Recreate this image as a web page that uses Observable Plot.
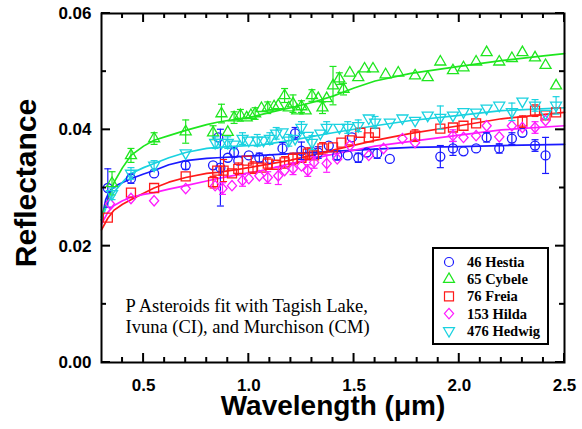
<!DOCTYPE html>
<html><head><meta charset="utf-8">
<script src="https://cdn.jsdelivr.net/npm/d3@7"></script>
<script src="https://cdn.jsdelivr.net/npm/@observablehq/plot@0.6"></script>
<style>
body{margin:0;background:#fff}
#wrap{position:relative;width:582px;height:429px;background:#fff}
#wrap svg.overlay{position:absolute;left:0;top:0;pointer-events:none}
</style></head><body><div id="wrap"></div>
<script>
// ---- data: [wavelength µm, reflectance, error] ----
const hestia = [[0.33,0.0300,0.0033],[0.44,0.0316,0.0008],[0.55,0.0325,0],[0.70,0.0339,0.0007],[0.83,0.0339,0],[0.855,0.0387,0],[0.865,0.0335,0.0066],[0.90,0.0352,0],[0.93,0.0361,0.0008],[0.95,0.0347,0],[1.00,0.0356,0],[1.05,0.0352,0.0008],[1.10,0.0350,0],[1.16,0.0368,0.0010],[1.22,0.0394,0.0010],[1.25,0.0364,0.0015],[1.30,0.0362,0],[1.33,0.0361,0.0010],[1.38,0.0373,0],[1.42,0.0356,0.0008],[1.47,0.0356,0],[1.49,0.0387,0],[1.52,0.0352,0.0008],[1.56,0.0361,0],[1.61,0.0359,0.0008],[1.67,0.0350,0],[1.91,0.0354,0.0019],[1.97,0.0368,0.0012],[2.02,0.0363,0],[2.08,0.0368,0],[2.13,0.0387,0.0008],[2.19,0.0368,0.0008],[2.25,0.0385,0.0010],[2.30,0.0395,0],[2.36,0.0373,0.0010],[2.41,0.0356,0.0031]];
const cybele = [[0.35,0.0308,0.0020],[0.44,0.0356,0.0012],[0.55,0.0385,0.0010],[0.70,0.0397,0.0020],[0.83,0.0395,0.0012],[0.87,0.0428,0.0016],[0.90,0.0396,0],[0.93,0.0421,0.0010],[0.96,0.0425,0.0010],[0.99,0.0421,0],[1.01,0.0425,0],[1.03,0.0428,0.0010],[1.06,0.0437,0],[1.09,0.0438,0.0010],[1.12,0.0440,0],[1.14,0.0442,0],[1.17,0.0459,0.0012],[1.19,0.0438,0],[1.21,0.0445,0.0015],[1.23,0.0433,0],[1.25,0.0440,0.0010],[1.27,0.0433,0],[1.30,0.0459,0.0010],[1.33,0.0454,0],[1.35,0.0438,0.0010],[1.37,0.0454,0],[1.40,0.0476,0.0033],[1.43,0.0488,0.0010],[1.45,0.0470,0.0010],[1.48,0.0498,0],[1.52,0.0490,0],[1.55,0.0505,0],[1.59,0.0505,0],[1.65,0.0495,0],[1.71,0.0498,0],[1.79,0.0493,0],[1.85,0.0490,0],[1.91,0.0517,0],[1.97,0.0502,0],[2.02,0.0507,0],[2.08,0.0517,0],[2.13,0.0533,0],[2.19,0.0517,0],[2.25,0.0523,0],[2.30,0.0533,0],[2.36,0.0524,0],[2.41,0.0511,0],[2.46,0.0476,0]];
const freia = [[0.33,0.0249,0],[0.44,0.0292,0],[0.55,0.0300,0],[0.70,0.0320,0],[0.83,0.0310,0.0010],[0.85,0.0330,0],[0.88,0.0330,0.0019],[0.92,0.0325,0],[0.95,0.0333,0.0010],[0.99,0.0347,0],[1.02,0.0335,0.0010],[1.06,0.0335,0],[1.09,0.0342,0.0010],[1.13,0.0340,0],[1.17,0.0344,0.0010],[1.21,0.0350,0.0010],[1.25,0.0352,0],[1.28,0.0359,0.0010],[1.31,0.0356,0],[1.35,0.0368,0.0010],[1.40,0.0370,0],[1.44,0.0378,0],[1.48,0.0382,0],[1.53,0.0395,0],[1.57,0.0387,0],[1.60,0.0395,0],[1.79,0.0390,0.0010],[1.91,0.0402,0],[1.97,0.0404,0],[2.02,0.0407,0],[2.08,0.0411,0],[2.30,0.0414,0.0010],[2.36,0.0433,0.0010],[2.41,0.0425,0],[2.46,0.0430,0]];
const hilda = [[0.34,0.0273,0],[0.44,0.0282,0],[0.55,0.0278,0],[0.70,0.0299,0],[0.84,0.0304,0],[0.875,0.0299,0.0010],[0.92,0.0304,0],[0.97,0.0313,0.0010],[1.00,0.0316,0],[1.05,0.0321,0],[1.09,0.0318,0.0010],[1.14,0.0321,0.0015],[1.17,0.0330,0],[1.21,0.0333,0.0010],[1.25,0.0338,0],[1.28,0.0330,0.0010],[1.31,0.0344,0.0010],[1.37,0.0342,0.0015],[1.42,0.0350,0],[1.48,0.0373,0],[1.57,0.0356,0],[1.64,0.0368,0],[1.73,0.0385,0],[1.79,0.0378,0],[1.97,0.0390,0.0010],[2.02,0.0387,0],[2.08,0.0390,0],[2.13,0.0407,0],[2.19,0.0388,0],[2.25,0.0407,0],[2.30,0.0404,0],[2.36,0.0404,0.0010],[2.41,0.0416,0]];
const hedwig = [[0.35,0.0290,0.0010],[0.44,0.0325,0.0010],[0.55,0.0339,0.0008],[0.70,0.0360,0],[0.84,0.0378,0.0010],[0.87,0.0378,0],[0.90,0.0378,0.0010],[0.93,0.0375,0],[0.97,0.0385,0.0010],[1.00,0.0382,0],[1.04,0.0382,0.0010],[1.07,0.0382,0],[1.10,0.0385,0.0010],[1.13,0.0394,0.0010],[1.16,0.0396,0],[1.19,0.0382,0.0010],[1.22,0.0385,0],[1.25,0.0404,0.0010],[1.28,0.0390,0],[1.30,0.0378,0.0012],[1.34,0.0394,0],[1.37,0.0404,0.0010],[1.43,0.0404,0],[1.47,0.0404,0.0010],[1.52,0.0407,0.0010],[1.57,0.0420,0],[1.60,0.0413,0.0010],[1.67,0.0413,0],[1.73,0.0420,0],[1.79,0.0416,0],[1.85,0.0425,0],[1.91,0.0421,0.0020],[1.97,0.0425,0],[2.02,0.0431,0],[2.08,0.0430,0],[2.13,0.0437,0],[2.19,0.0442,0],[2.25,0.0431,0.0015],[2.30,0.0449,0],[2.36,0.0442,0.0010],[2.41,0.0428,0],[2.46,0.0442,0.0015]];

// ---- model fits: [wavelength µm, reflectance] ----
const hestiaFit = [[0.30,0.0245],[0.32,0.0280],[0.34,0.0296],[0.38,0.0306],[0.44,0.0316],[0.50,0.0324],[0.55,0.0330],[0.62,0.0340],[0.70,0.0347],[0.80,0.0351],[0.85,0.0352],[0.95,0.0354],[1.06,0.0356],[1.20,0.0359],[1.40,0.0363],[1.60,0.0367],[1.77,0.0370],[2.00,0.0371],[2.20,0.0373],[2.50,0.0375]];
const cybeleFit = [[0.30,0.0250],[0.33,0.0280],[0.36,0.0310],[0.40,0.0335],[0.44,0.0356],[0.50,0.0372],[0.55,0.0382],[0.62,0.0390],[0.70,0.0399],[0.80,0.0409],[0.85,0.0413],[0.90,0.0416],[1.00,0.0421],[1.10,0.0430],[1.20,0.0438],[1.30,0.0447],[1.40,0.0458],[1.50,0.0472],[1.60,0.0484],[1.77,0.0497],[2.00,0.0509],[2.20,0.0519],[2.40,0.0527],[2.50,0.0531]];
const freiaFit = [[0.30,0.0228],[0.33,0.0248],[0.36,0.0262],[0.40,0.0272],[0.44,0.0280],[0.50,0.0291],[0.55,0.0300],[0.62,0.0310],[0.70,0.0318],[0.80,0.0325],[0.85,0.0327],[0.95,0.0332],[1.06,0.0339],[1.20,0.0348],[1.40,0.0365],[1.60,0.0382],[1.77,0.0394],[2.00,0.0407],[2.20,0.0419],[2.50,0.0430]];
const hildaFit = [[0.30,0.0238],[0.33,0.0258],[0.36,0.0270],[0.40,0.0278],[0.44,0.0284],[0.50,0.0289],[0.55,0.0292],[0.62,0.0298],[0.70,0.0304],[0.80,0.0312],[0.85,0.0316],[0.95,0.0323],[1.06,0.0330],[1.20,0.0342],[1.40,0.0358],[1.60,0.0372],[1.77,0.0380],[2.00,0.0391],[2.20,0.0400],[2.50,0.0407]];
const hedwigFit = [[0.30,0.0245],[0.33,0.0275],[0.36,0.0293],[0.40,0.0310],[0.44,0.0325],[0.50,0.0335],[0.55,0.0342],[0.62,0.0352],[0.70,0.0361],[0.80,0.0368],[0.85,0.0370],[0.95,0.0372],[1.06,0.0374],[1.20,0.0382],[1.40,0.0395],[1.60,0.0407],[1.77,0.0416],[2.00,0.0425],[2.20,0.0433],[2.50,0.0438]];

const seriesNames = ["46 Hestia","65 Cybele","76 Freia","153 Hilda","476 Hedwig"];
const seriesColors = ["#1a1aff","#1ee61e","#ff1a1a","#ff1aff","#1ad2e0"];
const xDomain = [0.3, 2.5];
const yDomain = [0, 0.06];
const xMajor = [0.5,1.0,1.5,2.0,2.5];
const xMinor = [0.4,0.6,0.7,0.8,0.9,1.1,1.2,1.3,1.4,1.6,1.7,1.8,1.9,2.1,2.2,2.3,2.4];
const yMajor = [0,0.02,0.04,0.06];
const yMinor = [0.01,0.03,0.05];
const annotation = "P Asteroids fit with Tagish Lake,\nIvuna (CI), and Murchison (CM)";

const W = 582, H = 429;

// ---- symbols ----
const symCircle = {draw(c){ c.moveTo(4.5,0); c.arc(0,0,4.5,0,2*Math.PI); }};
const symTriUp = {draw(c){ c.moveTo(0,-6.3); c.lineTo(5.5,3.2); c.lineTo(-5.5,3.2); c.closePath(); }};
const symSquare = {draw(c){ c.moveTo(-4.5,-4.5); c.lineTo(4.5,-4.5); c.lineTo(4.5,4.5); c.lineTo(-4.5,4.5); c.closePath(); }};
const symDiamond = {draw(c){ c.moveTo(0,-5.2); c.lineTo(4.6,0); c.lineTo(0,5.2); c.lineTo(-4.6,0); c.closePath(); }};
const symTriDown = {draw(c){ c.moveTo(0,6.3); c.lineTo(5.5,-3.2); c.lineTo(-5.5,-3.2); c.closePath(); }};
const symCap = {draw(c){ c.moveTo(-3.5,0); c.lineTo(3.5,0); }};
const seriesSymbols = [symCircle, symTriUp, symSquare, symDiamond, symTriDown];

const observed = [hestia, cybele, freia, hilda, hedwig];
const fitted = [hestiaFit, cybeleFit, freiaFit, hildaFit, hedwigFit];

const marks = [];
fitted.forEach((f, i) => {
  marks.push(Plot.line(f, {x: d => d[0], y: d => d[1], stroke: seriesColors[i], strokeWidth: 1.7}));
});
observed.forEach((s, i) => {
  const rows = s.map(([x, y, e]) => ({x, y, e}));
  const eb = rows.filter(d => d.e > 0);
  const c = seriesColors[i];
  marks.push(Plot.ruleX(eb, {x: "x", y1: d => d.y - d.e, y2: d => d.y + d.e, stroke: c, strokeWidth: 1.2}));
  marks.push(Plot.dot(eb, {x: "x", y: d => d.y + d.e, symbol: symCap, stroke: c, strokeWidth: 1.2}));
  marks.push(Plot.dot(eb, {x: "x", y: d => d.y - d.e, symbol: symCap, stroke: c, strokeWidth: 1.2}));
  marks.push(Plot.dot(rows, {x: "x", y: "y", symbol: seriesSymbols[i], stroke: c, fill: "none", strokeWidth: 1.3}));
});

const chart = Plot.plot({
  width: W, height: H,
  marginLeft: 101, marginRight: 18, marginTop: 13, marginBottom: 67,
  style: {fontFamily: "'Liberation Sans', Arial, sans-serif", fontSize: "17px", fontWeight: "bold", background: "white", overflow: "visible", color: "black"},
  x: {domain: xDomain},
  y: {domain: yDomain},
  marks: [
    ...marks,
    Plot.axisX({anchor: "bottom", ticks: xMajor, tickSize: 0, tickPadding: 16, tickFormat: d3.format(".1f"), label: null, fontSize: 17}),
    Plot.axisY({anchor: "left", ticks: yMajor, tickSize: 0, tickPadding: 10, tickFormat: d3.format(".2f"), label: null, fontSize: 17}),
    Plot.frame({stroke: "black", strokeWidth: 2}),
    Plot.text(["Wavelength (\u03bcm)"], {frameAnchor: "bottom", dy: 52, fontSize: 28, fontWeight: "bold"}),
    Plot.text(["Reflectance"], {frameAnchor: "left", textAnchor: "middle", dx: -75, dy: -5, rotate: -90, fontSize: 30, fontWeight: "bold"}),
    Plot.text([annotation], {frameAnchor: "top-left", dx: 24, dy: 283, textAnchor: "start", lineAnchor: "top", lineHeight: 1.15, fontSize: 18.5, fontWeight: "normal", fontFamily: "'Liberation Serif', 'Times New Roman', serif"})
  ]
});
const wrap = document.getElementById("wrap");
wrap.appendChild(chart);

// ---- overlay: inward ticks (positioned with Plot's own scales) and legend ----
const sx = chart.scale("x"), sy = chart.scale("y");
const px = v => sx.apply(v), py = v => sy.apply(v);
const x0 = px(xDomain[0]), x1 = px(xDomain[1]), y0 = py(yDomain[0]), y1 = py(yDomain[1]);
const ov = d3.select(wrap).append("svg").attr("class", "overlay").attr("width", W).attr("height", H);
const tg = ov.append("g").attr("stroke", "#000").attr("stroke-width", 2);
[[xMajor, 9], [xMinor, 5]].forEach(([ticks, len]) => {
  ticks.forEach(t => {
    const x = px(t);
    tg.append("line").attr("x1", x).attr("x2", x).attr("y1", y0).attr("y2", y0 - len);
    tg.append("line").attr("x1", x).attr("x2", x).attr("y1", y1).attr("y2", y1 + len);
  });
});
[[yMajor, 9], [yMinor, 5]].forEach(([ticks, len]) => {
  ticks.forEach(t => {
    const y = py(t);
    tg.append("line").attr("y1", y).attr("y2", y).attr("x1", x0).attr("x2", x0 + len);
    tg.append("line").attr("y1", y).attr("y2", y).attr("x1", x1).attr("x2", x1 - len);
  });
});

ov.append("rect").attr("x", 433).attr("y", 248).attr("width", 115).attr("height", 96)
  .attr("fill", "white").attr("stroke", "black").attr("stroke-width", 2);
seriesNames.forEach((name, i) => {
  const cy = 262 + i * 17.2;
  ov.append("path").attr("d", d3.symbol(seriesSymbols[i])()).attr("transform", `translate(449,${cy})`)
    .attr("fill", "none").attr("stroke", seriesColors[i]).attr("stroke-width", 1.2);
  ov.append("text").attr("x", 467).attr("y", cy + 5).text(name)
    .attr("font-family", "'Liberation Serif', 'Times New Roman', serif").attr("font-weight", "bold").attr("font-size", 14.5).attr("fill", "black");
});
</script></body></html>
